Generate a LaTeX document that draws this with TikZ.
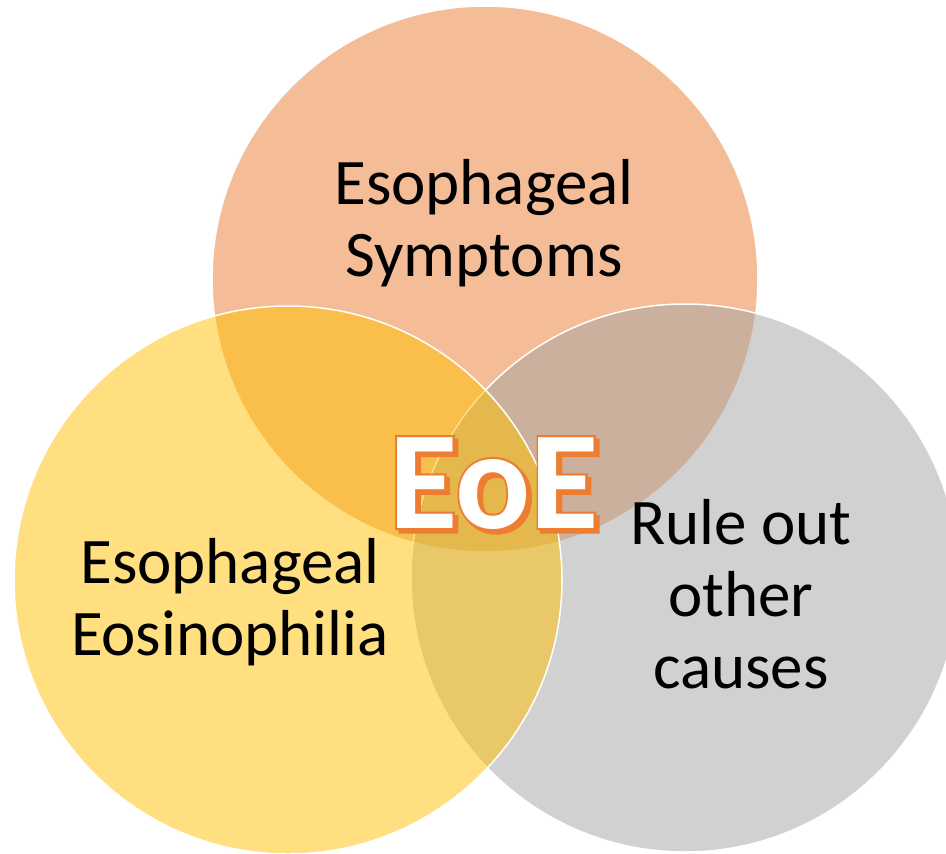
\documentclass[tikz,border=0pt]{standalone}
\usepackage{fontspec}
\setmainfont{Carlito}
\newfontfamily\eoethick[FakeBold=3]{Carlito Bold}
\usetikzlibrary{calc}
\definecolor{vorange}{HTML}{ED7D31}
\definecolor{vgold}{HTML}{FFC000}
\definecolor{vgray}{HTML}{A5A5A5}
\begin{document}
\begin{tikzpicture}[x=1pt,y=-1pt,
  venn/.style={draw=white, line width=1.5pt, fill opacity=0.5, draw opacity=1},
  vlabel/.style={font=\fontsize{65}{72}\selectfont, align=center, anchor=base, inner sep=0pt, text=black},
  eoe/.style={font=\bfseries\fontsize{140}{140}\selectfont, anchor=base, inner sep=0pt},
  eoeline/.style={font=\eoethick\fontsize{140}{140}\selectfont, anchor=base, inner sep=0pt, text=vorange}]
\useasboundingbox (0,0) rectangle (946,854);
\fill[white] (0,0) rectangle (946,854);
\begin{scope}
\clip (0,0) rectangle (946,854);
\draw[venn, fill=vorange] (485,279) circle[radius=273];
\draw[venn, fill=vgray] (685,578) circle[radius=274];
\draw[venn, fill=vgold] (288,580) circle[radius=274];
\end{scope}
\node[vlabel] (sym) at (484,276) {Esophageal\\Symptoms};
\node[vlabel] (eos) at (230,655) {Esophageal\\Eosinophilia};
\node[vlabel] (rule) at (741,688) {Rule out\\other\\causes};
\node[eoeline] (eoeshadow) at (497.5,531.5) {EoE};
\node[eoeline] (eoeoutline) at (494,528) {EoE};
\node[eoe, text=white] (eoe) at (494,528) {EoE};
\end{tikzpicture}
\end{document}
